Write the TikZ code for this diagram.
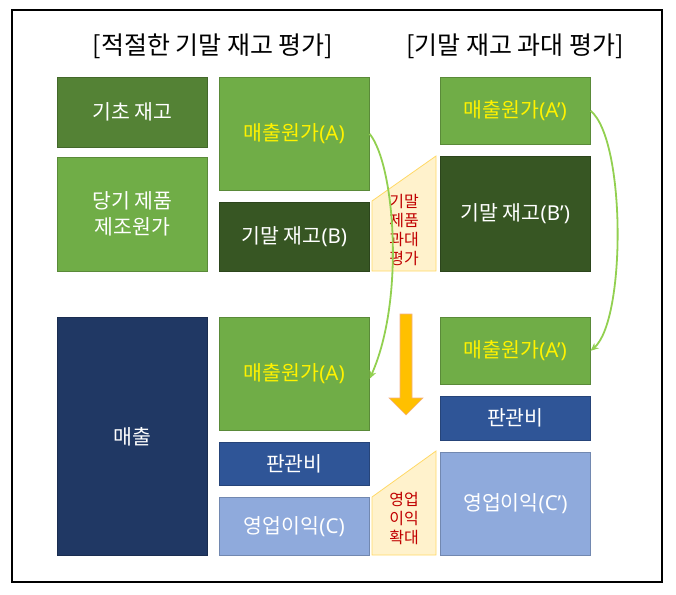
\documentclass[tikz,border=0pt]{standalone}
\usepackage{fontspec}
\setmainfont{Noto Sans CJK KR}
\newfontfamily\latf{Noto Sans}
\usetikzlibrary{arrows.meta}
\definecolor{gA}{HTML}{70AD47}
\definecolor{gB}{HTML}{548235}
\definecolor{gC}{HTML}{375623}
\definecolor{nA}{HTML}{203864}
\definecolor{nB}{HTML}{2F5597}
\definecolor{nC}{HTML}{8FAADC}
\definecolor{calfill}{HTML}{FFF2CC}
\definecolor{caledge}{HTML}{FFD966}
\definecolor{caltext}{HTML}{C00000}
\definecolor{orfill}{HTML}{FFC000}
\definecolor{oredge}{HTML}{F4B183}
\definecolor{arrg}{HTML}{92D050}
\tikzset{
  blk/.style={rectangle, anchor=north west, inner sep=0pt, minimum width=150pt,
    text=white, font=\fontsize{20.5}{26}\selectfont, align=center, draw=#1!80!black, fill=#1, line width=0.6pt},
  yel/.style={text=yellow},
  ttl/.style={font=\fontsize{25}{28}\selectfont, inner sep=0pt},
  caltxt/.style={font=\fontsize{16}{19}\selectfont, text=caltext, align=center, inner sep=0pt},
  calshape/.style={fill=calfill, draw=caledge, line width=0.8pt},
  flow/.style={draw=arrg, line width=1.8pt, -{Stealth[length=8pt,width=7pt]}},
}
\begin{document}
\begin{tikzpicture}[x=1pt,y=-1pt]
\useasboundingbox (0,0) rectangle (676,594);
\draw[line width=1.6pt] (12,10) rectangle (662,582);
\node[ttl] (t1) at (213,46) {[적절한 기말 재고 평가]};
\node[ttl] (t2) at (515,46) {[기말 재고 과대 평가]};
% top left
\node[blk=gB, minimum height=70pt] (bs) at (57,77) {기초 재고};
\node[blk=gA, minimum height=114pt] (cur) at (57,157) {당기 제품\\제조원가};
\node[blk=gA, minimum height=113pt, yel] (a1) at (219,77) {매출원가{\latf(A)}};
\node[blk=gC, minimum height=69pt] (b1) at (219,202) {기말 재고{\latf(B)}};
% top right
\node[blk=gA, minimum height=67pt, yel] (a2) at (440,77) {매출원가{\latf(A’)}};
\node[blk=gC, minimum height=115pt] (b2) at (440,156) {기말 재고{\latf(B’)}};
% bottom left
\node[blk=nA, minimum height=238pt] (sales) at (57,317) {매출};
\node[blk=gA, minimum height=113pt, yel] (a3) at (219,317) {매출원가{\latf(A)}};
\node[blk=nB, minimum height=43pt] (sg1) at (219,442) {판관비};
\node[blk=nC, minimum height=58pt] (c1) at (219,497) {영업이익{\latf(C)}};
% bottom right
\node[blk=gA, minimum height=67pt, yel] (a4) at (440,317) {매출원가{\latf(A’)}};
\node[blk=nB, minimum height=44pt] (sg2) at (440,396) {판관비};
\node[blk=nC, minimum height=103pt] (c2) at (440,452) {영업이익{\latf(C’)}};
% callouts
\draw[calshape] (372,201) -- (436,156) -- (436,271) -- (372,271) -- cycle;
\node[caltxt] (k1) at (404,230) {기말\\제품\\과대\\평가};
\draw[calshape] (372,497) -- (436,451) -- (436,555) -- (372,555) -- cycle;
\node[caltxt] (k2) at (404,518) {영업\\이익\\확대};
% orange arrow
\draw[fill=orfill, draw=oredge, line width=0.6pt] (400,314) -- (412,314) -- (412,398) -- (423,398) -- (406,415) -- (389,398) -- (400,398) -- cycle;
% curved flows
\draw[flow] (a1.east) .. controls (395,165) and (405,300) .. ([yshift=-5pt]a3.east);
\draw[flow] (a2.east) .. controls (626,140) and (626,320) .. (a4.east);
\end{tikzpicture}
\end{document}
